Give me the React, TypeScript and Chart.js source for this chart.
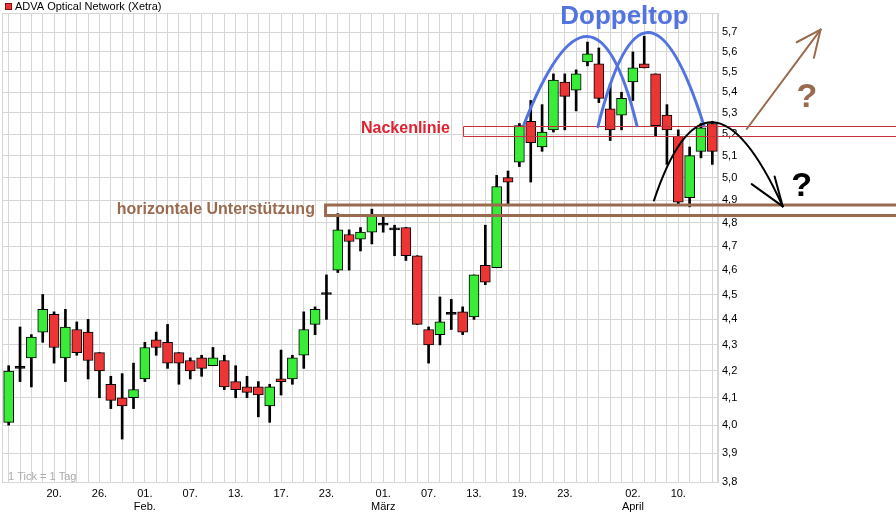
import React, { useEffect, useRef } from 'react';
import { Chart, registerables } from 'chart.js';

Chart.register(...registerables);

// ---- data -------------------------------------------------------------
const tradingDays = [
  '2012-01-16', '2012-01-17', '2012-01-18', '2012-01-19', '2012-01-20',
  '2012-01-23', '2012-01-24', '2012-01-25', '2012-01-26', '2012-01-27',
  '2012-01-30', '2012-01-31', '2012-02-01', '2012-02-02', '2012-02-03',
  '2012-02-06', '2012-02-07', '2012-02-08', '2012-02-09', '2012-02-10',
  '2012-02-13', '2012-02-14', '2012-02-15', '2012-02-16', '2012-02-17',
  '2012-02-20', '2012-02-21', '2012-02-22', '2012-02-23', '2012-02-24',
  '2012-02-27', '2012-02-28', '2012-02-29', '2012-03-01', '2012-03-02',
  '2012-03-05', '2012-03-06', '2012-03-07', '2012-03-08', '2012-03-09',
  '2012-03-12', '2012-03-13', '2012-03-14', '2012-03-15', '2012-03-16',
  '2012-03-19', '2012-03-20', '2012-03-21', '2012-03-22', '2012-03-23',
  '2012-03-26', '2012-03-27', '2012-03-28', '2012-03-29', '2012-03-30',
  '2012-04-02', '2012-04-03', '2012-04-04', '2012-04-05', '2012-04-10',
  '2012-04-11', '2012-04-12', '2012-04-13',
];

const opens = [
  4.01, 4.21, 4.25, 4.35, 4.42, 4.25, 4.36, 4.35, 4.27, 4.15,
  4.10, 4.10, 4.17, 4.32, 4.31, 4.27, 4.24, 4.25, 4.22, 4.24,
  4.16, 4.14, 4.14, 4.07, 4.17, 4.17, 4.26, 4.38, 4.50, 4.60,
  4.75, 4.73, 4.76, 4.79, 4.77, 4.78, 4.66, 4.36, 4.34, 4.42,
  4.43, 4.41, 4.62, 4.61, 5.00, 5.07, 5.26, 5.14, 5.22, 5.45,
  5.41, 5.55, 5.54, 5.32, 5.29, 5.45, 5.54, 5.49, 5.29, 5.19,
  4.91, 5.12, 5.25,
];
const highs = [
  4.22, 4.37, 4.34, 4.50, 4.43, 4.44, 4.39, 4.40, 4.27, 4.18,
  4.19, 4.23, 4.31, 4.35, 4.38, 4.27, 4.25, 4.26, 4.29, 4.26,
  4.22, 4.18, 4.16, 4.15, 4.28, 4.26, 4.43, 4.45, 4.58, 4.84,
  4.77, 4.78, 4.86, 4.83, 4.79, 4.78, 4.66, 4.37, 4.49, 4.48,
  4.45, 4.58, 4.79, 5.01, 5.03, 5.25, 5.36, 5.34, 5.49, 5.49,
  5.51, 5.65, 5.62, 5.44, 5.40, 5.60, 5.68, 5.49, 5.34, 5.22,
  5.14, 5.25, 5.26,
];
const lows = [
  4.00, 4.16, 4.14, 4.31, 4.23, 4.16, 4.26, 4.17, 4.10, 4.06,
  3.95, 4.06, 4.16, 4.26, 4.21, 4.15, 4.17, 4.18, 4.22, 4.13,
  4.10, 4.10, 4.03, 4.01, 4.11, 4.15, 4.21, 4.34, 4.40, 4.59,
  4.60, 4.68, 4.71, 4.76, 4.66, 4.64, 4.38, 4.23, 4.30, 4.36,
  4.34, 4.40, 4.54, 4.61, 4.88, 5.05, 4.98, 5.12, 5.21, 5.22,
  5.31, 5.53, 5.35, 5.17, 5.22, 5.36, 5.52, 5.19, 5.06, 4.88,
  4.87, 5.09, 5.06,
];
const closes = [
  4.20, 4.21, 4.33, 4.44, 4.29, 4.37, 4.27, 4.24, 4.20, 4.09,
  4.07, 4.13, 4.29, 4.29, 4.23, 4.23, 4.20, 4.21, 4.25, 4.14,
  4.13, 4.12, 4.11, 4.14, 4.16, 4.25, 4.36, 4.44, 4.50, 4.77,
  4.72, 4.76, 4.83, 4.79, 4.77, 4.66, 4.38, 4.30, 4.39, 4.42,
  4.35, 4.58, 4.55, 4.96, 4.98, 5.24, 5.16, 5.21, 5.46, 5.38,
  5.49, 5.59, 5.37, 5.22, 5.37, 5.52, 5.52, 5.24, 5.22, 4.89,
  5.10, 5.23, 5.12,
];

const priceTicks = [
  3.8, 3.9, 4.0, 4.1, 4.2, 4.3, 4.4, 4.5, 4.6, 4.7,
  4.8, 4.9, 5.0, 5.1, 5.2, 5.3, 5.4, 5.5, 5.6, 5.7,
];
const axisTickDays = [
  '2012-01-20', '2012-01-26', '2012-02-01', '2012-02-07', '2012-02-13',
  '2012-02-17', '2012-02-23', '2012-03-01', '2012-03-07', '2012-03-13',
  '2012-03-19', '2012-03-23', '2012-04-02', '2012-04-10',
];
const monthNames: Record<string, string> = { '02': 'Feb.', '03': 'März', '04': 'April' };

// annotation geometry in data space: [day index, price]
const necklineBand = [5.19, 5.24];
const necklineStart = 40;
const supportBand = [4.832, 4.878];
const supportStart = 27.92;
const doubleTopArcs = [
  { from: [45.4, 5.245], ctrl: [51.53, 6.15], to: [55.36, 5.24] },
  { from: [51.92, 5.235], ctrl: [56.06, 6.2], to: [61.26, 5.24] },
];
const downArc = { from: [56.86, 4.898], ctrl: [61.56, 5.654], to: [68.2, 4.872] };
const downBarbs = [[65.47, 4.971], [67.49, 5.005]];
const upArrow = { from: [65.03, 5.224], to: [71.54, 5.714] };
const upBarbs = [[69.43, 5.649], [70.95, 5.57]];
const labelDoppeltop = [54.26, 5.745];
const labelNeck = [34.96, 5.207];
const labelSupport = [18.25, 4.837];
const qDown = [69.87, 4.916];
const qUp = [70.34, 5.329];

// ---- styles -----------------------------------------------------------
const FONT = 'Arial, "Liberation Sans", sans-serif';
const GREEN = '#38ec38';
const RED = '#ee3535';
const GRID = '#d6d6d6';
const BLUE = '#5373e0';
const BROWN = '#9a6a4e';
const NECK = '#c8303a';

export default function App() {
  const ref = useRef<HTMLCanvasElement | null>(null);

  useEffect(() => {
    document.body.style.margin = '0';
    const canvas = ref.current;
    if (!canvas) return;

    const bodyColors = opens.map((o, i) =>
      closes[i] > o ? GREEN : closes[i] < o ? RED : '#000000'
    );

    const tickLabel = (idx: number): string | string[] => {
      const d = tradingDays[idx];
      const k = axisTickDays.indexOf(d);
      if (k < 0) return '';
      const day = d.slice(8, 10) + '.';
      const mon = d.slice(5, 7);
      const prev = k > 0 ? axisTickDays[k - 1].slice(5, 7) : mon;
      if (mon !== prev && monthNames[mon]) return [day, monthNames[mon]];
      return day;
    };

    const background = {
      id: 'bg',
      beforeDraw(chart: any) {
        const { ctx } = chart;
        ctx.save();
        ctx.fillStyle = '#ffffff';
        ctx.fillRect(0, 0, chart.width, chart.height);
        ctx.restore();
      },
      beforeDatasetsDraw(chart: any) {
        const { ctx, chartArea: a } = chart;
        ctx.save();
        ctx.strokeStyle = GRID;
        ctx.lineWidth = 1;
        ctx.strokeRect(Math.round(a.left) - 0.5, Math.round(a.top) + 0.5, a.right - a.left, a.bottom - a.top);
        ctx.fillStyle = '#aaaaaa';
        ctx.font = `11px ${FONT}`;
        ctx.textBaseline = 'alphabetic';
        ctx.textAlign = 'left';
        ctx.fillText('1 Tick = 1 Tag', a.left + 5, a.bottom - 2);
        // header
        ctx.fillStyle = '#ee3333';
        ctx.fillRect(5, 3, 7, 7);
        ctx.strokeStyle = '#7a1010';
        ctx.strokeRect(5.5, 3.5, 6, 6);
        ctx.fillStyle = '#000000';
        ctx.textBaseline = 'middle';
        ctx.fillText('ADVA Optical Network (Xetra)', 15, 7);
        ctx.restore();
      },
    };

    const annotations = {
      id: 'annot',
      afterDraw(chart: any) {
        const { ctx } = chart;
        const xs = chart.scales.x;
        const ys = chart.scales.y;
        const P = (p: number[]) => [xs.getPixelForValue(p[0]), ys.getPixelForValue(p[1])];
        const W = chart.width + 10;
        ctx.save();

        // neckline band
        ctx.strokeStyle = NECK;
        ctx.lineWidth = 1;
        const nx = Math.round(xs.getPixelForValue(necklineStart)) + 0.5;
        const nTop = Math.round(ys.getPixelForValue(necklineBand[1])) + 0.5;
        const nBot = Math.round(ys.getPixelForValue(necklineBand[0])) + 0.5;
        ctx.beginPath();
        ctx.moveTo(W, nTop);
        ctx.lineTo(nx, nTop);
        ctx.lineTo(nx, nBot);
        ctx.lineTo(W, nBot);
        ctx.stroke();

        // support band
        ctx.strokeStyle = BROWN;
        ctx.lineWidth = 3;
        const sx = xs.getPixelForValue(supportStart);
        const sTop = ys.getPixelForValue(supportBand[1]);
        const sBot = ys.getPixelForValue(supportBand[0]);
        ctx.beginPath();
        ctx.moveTo(W, sTop);
        ctx.lineTo(sx, sTop);
        ctx.lineTo(sx, sBot);
        ctx.lineTo(W, sBot);
        ctx.stroke();

        // double top arcs
        ctx.strokeStyle = BLUE;
        ctx.lineWidth = 3;
        ctx.lineCap = 'round';
        doubleTopArcs.forEach((arc) => {
          const a = P(arc.from), c = P(arc.ctrl), b = P(arc.to);
          ctx.beginPath();
          ctx.moveTo(a[0], a[1]);
          ctx.quadraticCurveTo(c[0], c[1], b[0], b[1]);
          ctx.stroke();
        });

        // down arc with arrow
        ctx.strokeStyle = '#000000';
        ctx.lineWidth = 2;
        {
          const a = P(downArc.from), c = P(downArc.ctrl), b = P(downArc.to);
          ctx.beginPath();
          ctx.moveTo(a[0], a[1]);
          ctx.quadraticCurveTo(c[0], c[1], b[0], b[1]);
          ctx.stroke();
          downBarbs.forEach((p) => {
            const q = P(p);
            ctx.beginPath();
            ctx.moveTo(q[0], q[1]);
            ctx.lineTo(b[0], b[1]);
            ctx.stroke();
          });
        }

        // up arrow
        ctx.strokeStyle = BROWN;
        ctx.lineWidth = 2;
        {
          const a = P(upArrow.from), b = P(upArrow.to);
          ctx.beginPath();
          ctx.moveTo(a[0], a[1]);
          ctx.lineTo(b[0], b[1]);
          ctx.stroke();
          upBarbs.forEach((p) => {
            const q = P(p);
            ctx.beginPath();
            ctx.moveTo(q[0], q[1]);
            ctx.lineTo(b[0], b[1]);
            ctx.stroke();
          });
        }

        // texts
        ctx.textBaseline = 'alphabetic';
        ctx.textAlign = 'center';
        let p = P(labelDoppeltop);
        ctx.fillStyle = BLUE;
        ctx.font = `bold 26px ${FONT}`;
        ctx.fillText('Doppeltop', p[0], p[1]);

        p = P(labelNeck);
        ctx.fillStyle = '#e0202e';
        ctx.font = `bold 16px ${FONT}`;
        ctx.fillText('Nackenlinie', p[0], p[1]);

        p = P(labelSupport);
        ctx.fillStyle = BROWN;
        ctx.fillText('horizontale Unterstützung', p[0], p[1]);

        ctx.font = `bold 34px ${FONT}`;
        p = P(qDown);
        ctx.fillStyle = '#000000';
        ctx.fillText('?', p[0], p[1]);
        p = P(qUp);
        ctx.fillStyle = BROWN;
        ctx.fillText('?', p[0], p[1]);

        ctx.restore();
      },
    };

    const chart = new Chart(canvas, {
      type: 'bar',
      data: {
        labels: tradingDays,
        datasets: [
          {
            label: 'body',
            data: opens.map((o, i) => [Math.min(o, closes[i]), Math.max(o, closes[i])]),
            backgroundColor: bodyColors,
            borderColor: '#000000',
            borderWidth: 1,
            borderSkipped: false,
            barThickness: 10,
            grouped: false,
            minBarLength: 2,
            order: 0,
          } as any,
          {
            label: 'wick',
            data: lows.map((l, i) => [l, highs[i]]),
            backgroundColor: '#000000',
            borderWidth: 0,
            barThickness: 2,
            grouped: false,
            order: 1,
          } as any,
        ],
      },
      options: {
        responsive: false,
        animation: false,
        events: [],
        layout: { padding: { left: 3, top: 13, right: 0, bottom: 0 } },
        plugins: { legend: { display: false }, tooltip: { enabled: false } },
        scales: {
          x: {
            type: 'category',
            offset: true,
            grid: { offset: false, color: GRID, drawTicks: false },
            border: { display: true, color: GRID },
            ticks: {
              autoSkip: false,
              maxRotation: 0,
              minRotation: 0,
              padding: 5,
              color: '#000000',
              font: { family: FONT, size: 11 },
              callback: (_v: any, i: number) => tickLabel(i),
            },
            afterFit: (s: any) => { s.height = 34; },
          },
          y: {
            type: 'logarithmic',
            position: 'right',
            min: 3.8,
            max: 5.8,
            afterBuildTicks: (s: any) => { s.ticks = priceTicks.map((v) => ({ value: v })); },
            grid: { color: GRID, drawTicks: false },
            border: { display: true, color: GRID },
            ticks: {
              padding: 4,
              color: '#000000',
              font: { family: FONT, size: 11 },
              callback: (v: any) => Number(v).toFixed(1).replace('.', ','),
            },
            afterFit: (s: any) => { s.width = 178; },
          },
        },
      } as any,
      plugins: [background, annotations],
    });

    return () => chart.destroy();
  }, []);

  return (
    <div style={{ width: 896, height: 516 }}>
      <canvas ref={ref} width={896} height={516} />
    </div>
  );
}
